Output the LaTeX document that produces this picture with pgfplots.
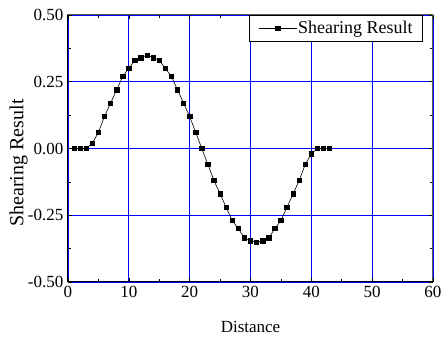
\documentclass[border=0pt]{standalone}
\usepackage{pgfplots}
\pgfplotsset{compat=1.18}
\usepackage{fontspec}
\setmainfont{Liberation Serif}
\pgfplotstableread{
x y
1 0
2 0
3 0
4 0.02
5 0.06
6 0.12
7 0.17
8 0.22
9 0.27
10 0.30
11 0.33
12 0.34
13 0.35
14 0.34
15 0.33
16 0.30
17 0.27
18 0.22
19 0.17
20 0.12
21 0.06
22 0
23 -0.06
24 -0.12
25 -0.17
26 -0.22
27 -0.27
28 -0.30
29 -0.335
30 -0.345
31 -0.352
32 -0.345
33 -0.335
34 -0.30
35 -0.27
36 -0.22
37 -0.17
38 -0.12
39 -0.06
40 -0.02
41 0
42 0
43 0
}\datatable
\begin{document}
\begin{tikzpicture}
\begin{axis}[
  name=a,
  scale only axis,
  width=365pt, height=267pt,
  xmin=0, xmax=60, ymin=-0.5, ymax=0.5,
  xtick={0,10,...,60},
  ytick={-0.5,-0.25,0,0.25,0.5},
  minor x tick num=1, minor y tick num=1,
  tick align=inside,
  major tick length=4pt, minor tick length=3pt,
  tick style={black, line width=0.6pt},
  axis line style={black!65, line width=1pt},
  grid=major,
  major grid style={blue, line width=0.8pt},
  font=\fontsize{17}{20}\selectfont,
  /pgf/number format/assume math mode=true,
  yticklabel style={/pgf/number format/.cd, fixed, fixed zerofill, precision=2, /tikz/.cd, inner sep=0pt, anchor=east, xshift=-4.5pt},
  xticklabel style={inner sep=0pt, anchor=north, yshift=-4pt},
  xlabel={Distance},
  ylabel={Shearing Result},
  xlabel style={at={(rel axis cs:0.5,0)}, anchor=north, inner sep=0pt, yshift=-39pt},
  ylabel style={at={(rel axis cs:0,0.4457)}, anchor=south, inner sep=0pt, yshift=40pt, font=\fontsize{20}{24}\selectfont},
  legend style={at={(rel axis cs:0.9726,1)}, anchor=north east, draw=black, line width=0.6pt, inner xsep=9pt, inner ysep=5pt, font=\fontsize{18}{21}\selectfont, nodes={inner sep=1pt}},
  legend image code/.code={\draw[mark repeat=2,mark phase=2,#1] plot coordinates {(0pt,0pt) (19pt,0pt) (38pt,0pt)};},
]
\addplot[black, line width=0.6pt, mark=square*, mark size=2.2pt, mark options={solid}] table[x=x,y=y] {\datatable};
\addlegendentry{Shearing Result}
\end{axis}
\draw[black, line width=1pt] (a.north west) -- (a.south west) -- (a.south east);
\path (a.south west) ++(-68pt,-62pt) rectangle ++(445pt,344pt);
\end{tikzpicture}
\end{document}
